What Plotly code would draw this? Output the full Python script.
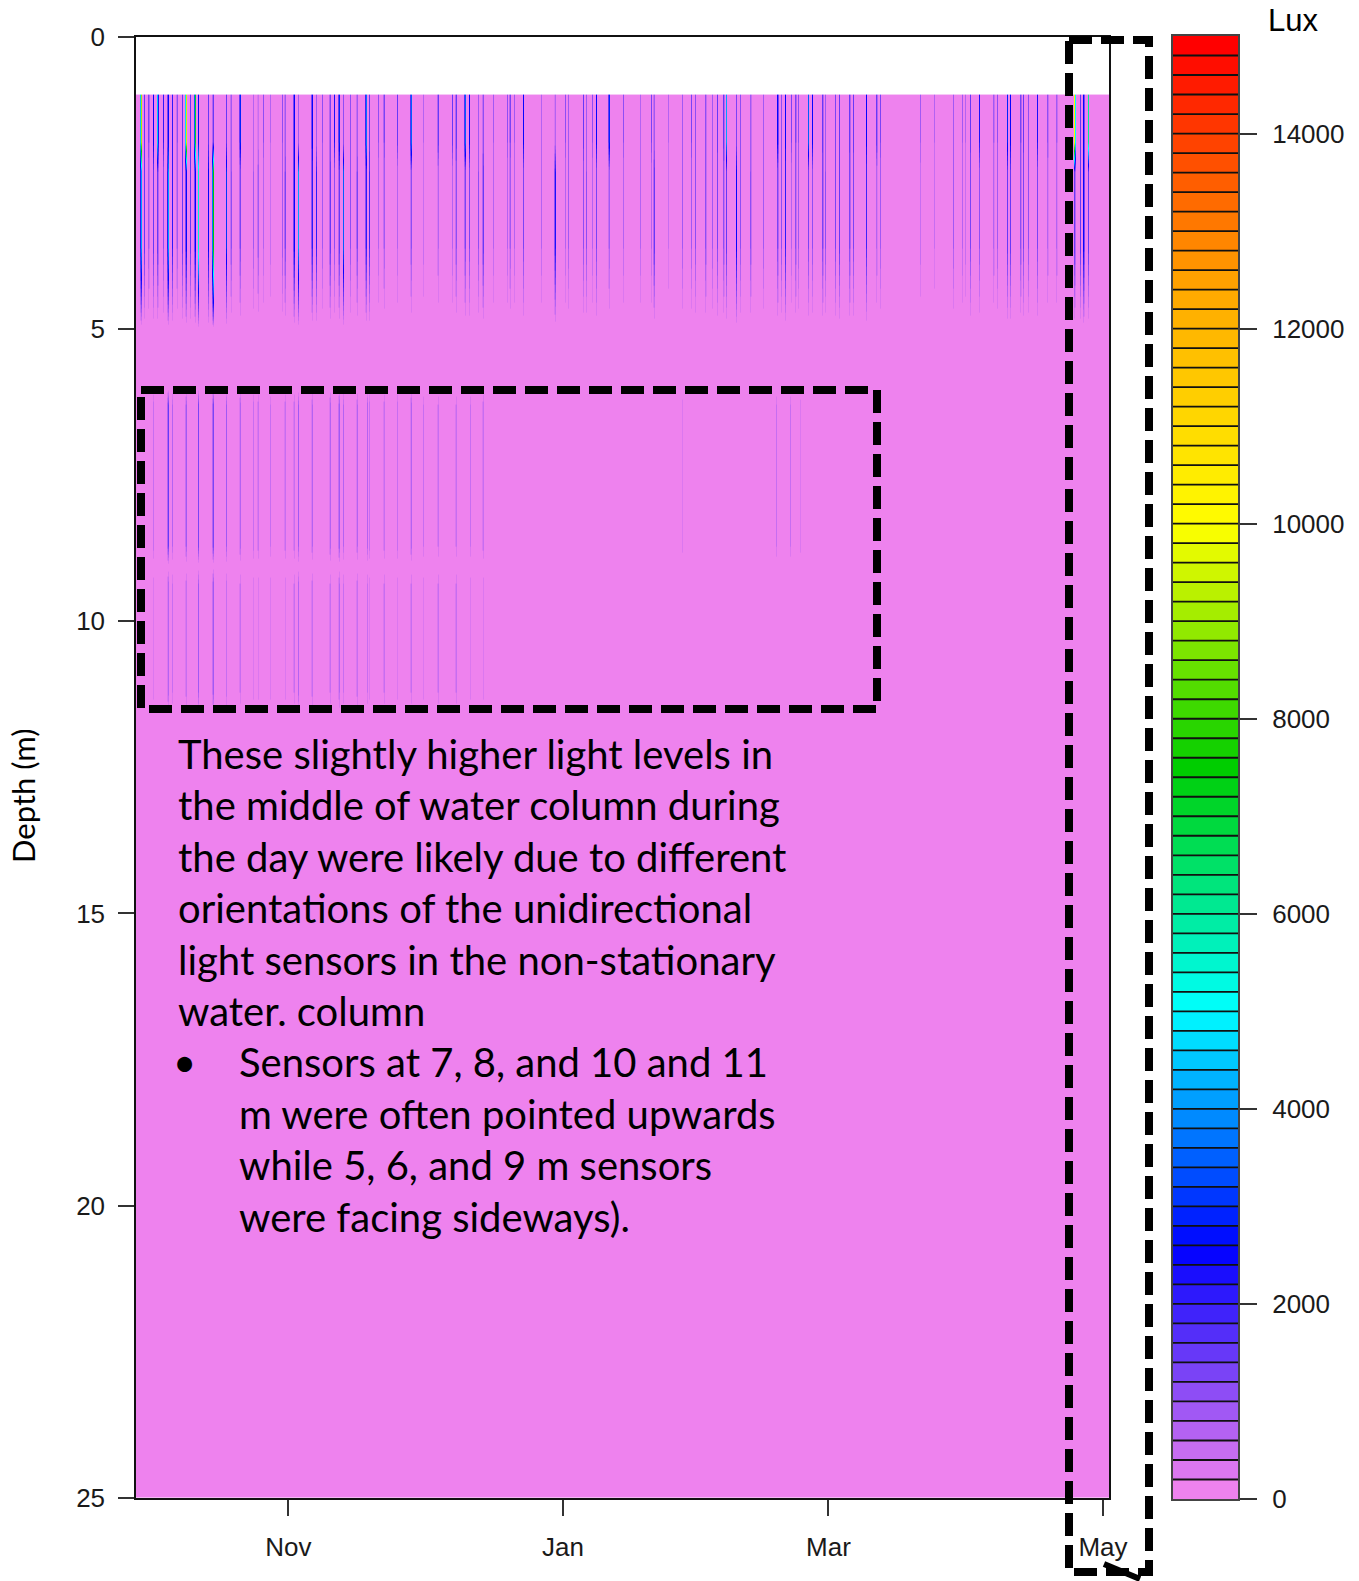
import numpy as np
import pandas as pd
import plotly.graph_objects as go

# ------------------------------------------------------------------ data
series_start = pd.Timestamp("2018-09-28 03:50")
series_end = pd.Timestamp("2019-05-02 08:00")

# daytime light peaks near the surface: day offset from series_start, lux at ~1 m and ~3 m
streak_day = [0.9, 1.8, 2.7, 3.8, 4.7, 6.0, 6.9, 8.0, 9.1, 10.2, 10.9, 12.0, 13.1, 13.8, 16.0, 17.1,
              20.0, 20.9, 22.9, 26.0, 26.9, 28.2, 29.8, 32.4, 33.1, 35.1, 36.0, 39.1, 40.0, 41.3,
              43.1, 44.0, 45.1, 46.0, 47.5, 49.1, 51.1, 51.8, 53.8, 54.9, 58.0, 61.1, 63.8, 67.1,
              70.2, 70.9, 73.1, 74.0, 76.0, 77.1, 79.3, 82.4, 83.1, 84.0, 86.0, 90.0, 93.1, 95.3,
              96.0, 99.3, 100.0, 101.3, 102.2, 105.1, 108.2, 112.0, 114.4, 115.1, 118.2, 121.3,
              123.3, 124.2, 126.4, 128.0, 129.1, 130.4, 131.1, 133.3, 134.2, 136.4, 139.3, 142.4,
              143.3, 144.2, 145.5, 146.4, 147.1, 149.3, 150.2, 152.4, 153.1, 155.3, 156.2, 158.4,
              159.3, 162.2, 164.6, 165.3, 174.2, 177.3, 181.5, 183.5, 184.2, 185.3, 187.3, 190.4,
              191.3, 193.5, 194.2, 196.4, 197.1, 198.2, 200.2, 202.6, 204.6, 208.6, 209.7, 210.4,
              211.5]
lux_1m = [9000, 1500, 1200, 2500, 4500, 2000, 2500, 2000, 1000, 1500, 9500, 1500, 7000, 2500, 1500, 1500,
          1500, 800, 2800, 600, 500, 1000, 600, 1000, 800, 2500, 800, 2500, 800, 1000,
          1200, 2200, 2800, 1000, 1000, 800, 3800, 1500, 1000, 1200, 1500, 3500, 600, 1500,
          1500, 1500, 3500, 2500, 800, 1000, 800, 1000, 1200, 800, 2500, 600, 600, 1000,
          800, 1500, 800, 1000, 2500, 2800, 1000, 600, 1200, 800, 600, 800,
          1200, 1000, 1000, 800, 1500, 1500, 4000, 1200, 1000, 800, 800, 2500,
          1000, 2500, 1200, 1200, 1000, 3500, 2500, 1500, 800, 1200, 1500, 1500,
          1500, 2500, 1500, 1200, 800, 600, 800, 800, 600, 1500, 2200, 800,
          1000, 2800, 2500, 1200, 1500, 1000, 2200, 1000, 800, 10000, 1500, 2500,
          6000]
lux_3m = [4000, 1500, 800, 1500, 1500, 1000, 4000, 2000, 800, 1500, 2500, 1500, 2500, 5500, 2500, 7500,
          3000, 1000, 1200, 800, 900, 600, 500, 900, 1200, 2500, 4000, 2000, 2000, 800,
          1500, 1000, 1500, 3500, 1000, 1200, 2000, 1800, 600, 800, 600, 1000, 500, 600,
          600, 1000, 1200, 1200, 1000, 1500, 600, 600, 800, 600, 1200, 600, 2200, 600,
          800, 1000, 1000, 600, 1200, 800, 600, 600, 600, 1500, 400, 800,
          800, 1000, 1000, 800, 1200, 1000, 1500, 2500, 1000, 1000, 800, 1200,
          1000, 2000, 600, 1000, 800, 1200, 1000, 1200, 1000, 1200, 1500, 1200,
          1200, 1800, 600, 800, 500, 400, 800, 600, 500, 1200, 1000, 600,
          800, 1500, 1500, 1000, 1200, 1000, 1200, 600, 600, 1500, 1500, 2500,
          1500]

# weaker daytime peaks in the middle of the water column (7-8 m and 10-11 m sensors)
deep_day = [3.8, 6.9, 8.0, 10.9, 13.8, 16.9, 20.0, 22.9, 26.0, 26.9, 29.8, 32.9, 34.9, 36.0, 39.1,
            43.1, 45.1, 46.0, 49.1, 51.3, 51.8, 54.9, 58.0, 61.1, 63.8, 67.1, 70.9, 74.2, 77.1,
            121.3, 142.2, 145.3, 147.5]
lux_7m = [500, 1400, 600, 800, 1300, 1300, 800, 700, 500, 500, 400, 500, 500, 800, 600,
          700, 900, 600, 600, 700, 500, 500, 500, 700, 400, 400, 400, 400, 500,
          300, 400, 400, 300]
lux_10m = [300, 700, 400, 500, 800, 900, 500, 400, 300, 300, 300, 300, 400, 700, 500,
           400, 600, 400, 500, 400, 300, 400, 300, 400, 300, 400, 400, 300, 300,
           0, 0, 0, 0]

# depth rows of the gridded field and which sensor group feeds each row
depth_rows = [1.0, 1.02, 1.8, 2.3, 3.6, 5.0, 6.0, 6.3, 8.7, 9.05, 9.35, 11.2, 11.6, 24.98, 25.0]
row_source = ["1m", "1m", "1m", "3m", "3m", None, None, "7m", "7m", None, "10m", "10m", None, None, None]

lux_levels = list(range(0, 15001, 200))
depth_ticks = [0, 5, 10, 15, 20, 25]
lux_ticks = [0, 2000, 4000, 6000, 8000, 10000, 12000, 14000]
month_ticks = ["2018-11-01", "2019-01-01", "2019-03-01", "2019-05-01"]
month_labels = ["Nov", "Jan", "Mar", "May"]

note_lines = ["These slightly higher light levels in",
              "the middle of water column during",
              "the day were likely due to different",
              "orientations of the unidirectional",
              "light sensors in the non-stationary",
              "water. column"]
bullet_lines = ["Sensors at 7, 8, and 10 and 11",
                "m were often pointed upwards",
                "while 5, 6, and 9 m sensors",
                "were facing sideways)."]

# ------------------------------------------------------------------ build grid
steps_per_day = 4
total_days = (series_end - series_start) / pd.Timedelta(days=1)
n_cols = int(np.floor(total_days * steps_per_day)) + 1
times = series_start + pd.to_timedelta(np.arange(n_cols) / steps_per_day, unit="D")

z = np.zeros((len(depth_rows), n_cols))
groups = {
    "1m": (streak_day, lux_1m),
    "3m": (streak_day, lux_3m),
    "7m": (deep_day, lux_7m),
    "10m": (deep_day, lux_10m),
}
for r, src in enumerate(row_source):
    if src is None:
        continue
    days, vals = groups[src]
    for d, v in zip(days, vals):
        c = int(round(d * steps_per_day))
        if 0 <= c < n_cols:
            z[r, c] = max(z[r, c], v)

# ------------------------------------------------------------------ palette (violet -> red ramp, 75 levels)
anchors = [(238, 130, 238), (0, 0, 255), (0, 255, 255), (0, 205, 0),
           (255, 255, 0), (255, 165, 0), (255, 0, 0)]
n_bands = len(lux_levels) - 1
band_colors = []
for i in range(n_bands):
    t = i / (n_bands - 1) * (len(anchors) - 1)
    k = min(int(np.floor(t)), len(anchors) - 2)
    f = t - k
    a, b = anchors[k], anchors[k + 1]
    rgb = [round(a[j] + (b[j] - a[j]) * f) for j in range(3)]
    band_colors.append("rgb(%d,%d,%d)" % tuple(rgb))
colorscale = []
for i, c in enumerate(band_colors):
    colorscale.append([i / n_bands, c])
    colorscale.append([(i + 1) / n_bands, c])

# ------------------------------------------------------------------ figure
W, H = 1359, 1581


def px(x):
    return x / W


def py(y):
    return 1 - y / H


fig = go.Figure()
fig.add_trace(go.Heatmap(
    x=times, y=depth_rows, z=z, zmin=0, zmax=lux_levels[-1],
    colorscale=colorscale, zsmooth="best", showscale=False,
    hoverinfo="skip", xaxis="x", yaxis="y"))

# key: bands + separators
band_mid = [[(lux_levels[i] + lux_levels[i + 1]) / 2] for i in range(n_bands)]
fig.add_trace(go.Heatmap(
    x=[0, 1], y=lux_levels, z=band_mid, zmin=0, zmax=lux_levels[-1],
    colorscale=colorscale, showscale=False, hoverinfo="skip",
    xaxis="x2", yaxis="y2"))
sep_x, sep_y = [], []
for lv in lux_levels[1:-1]:
    sep_x += [0, 1, None]
    sep_y += [lv, lv, None]
fig.add_trace(go.Scatter(x=sep_x, y=sep_y, mode="lines",
                         line=dict(color="#111111", width=1.8),
                         hoverinfo="skip", showlegend=False,
                         xaxis="x2", yaxis="y2"))

tick_font = dict(family="Liberation Sans, Arial, sans-serif", size=26, color="#1a1a1a")

fig.update_layout(
    width=W, height=H, autosize=False,
    margin=dict(l=0, r=0, t=0, b=0, pad=0),
    paper_bgcolor="white", plot_bgcolor="white",
    showlegend=False,
    xaxis=dict(domain=[px(136), px(1109)], range=[series_start, series_end],
               type="date", tickvals=pd.to_datetime(month_ticks), ticktext=month_labels,
               ticks="outside", ticklen=16, tickwidth=1.5, tickcolor="#333",
               showline=True, mirror=True, linecolor="#111", linewidth=1.5,
               showgrid=False, zeroline=False, tickfont=tick_font,
               ticklabelstandoff=9, anchor="y", automargin=False),
    yaxis=dict(domain=[py(1498), py(36.7)], range=[25, 0],
               tickvals=depth_ticks, ticks="outside", ticklen=16, tickwidth=1.5,
               tickcolor="#333", showline=True, mirror=True, linecolor="#111",
               linewidth=1.5, showgrid=False, zeroline=False, tickfont=tick_font,
               ticklabelstandoff=8, anchor="x", automargin=False),
    xaxis2=dict(domain=[px(1173), px(1238)], range=[0, 1], showticklabels=False,
                ticks="", showline=True, mirror=True, linecolor="#444", linewidth=2,
                showgrid=False, zeroline=False, anchor="y2", automargin=False),
    yaxis2=dict(domain=[py(1499), py(36)], range=[0, lux_levels[-1]], side="right",
                tickvals=lux_ticks, ticktext=[str(v) for v in lux_ticks],
                ticks="outside", ticklen=17, tickwidth=1.5,
                tickcolor="#333", showline=True, mirror=True, linecolor="#444",
                linewidth=2, showgrid=False, zeroline=False, tickfont=tick_font,
                ticklabelstandoff=10, anchor="x2", automargin=False),
)

annotations = []
annotations.append(dict(text="Depth (m)", x=px(23), y=py(796), xref="paper", yref="paper",
                        xanchor="center", yanchor="middle",
                        showarrow=False, textangle=-90,
                        font=dict(family="Lato, sans-serif", size=31, color="black")))
annotations.append(dict(text="Lux", x=px(1293), y=py(20), xref="paper", yref="paper",
                        xanchor="center", yanchor="middle", showarrow=False,
                        font=dict(family="Liberation Sans, Arial, sans-serif", size=31,
                                  color="black")))
note_font = dict(family="Lato, sans-serif", size=40, color="black")
line_h = 51.4
for i, t in enumerate(note_lines):
    annotations.append(dict(text=t, x=px(176), y=py(754 + i * line_h), xref="paper",
                            yref="paper", xanchor="left", yanchor="middle",
                            showarrow=False, font=note_font))
for j, t in enumerate(bullet_lines):
    yy = 754 + (len(note_lines) + j) * line_h
    annotations.append(dict(text=t, x=px(237), y=py(yy), xref="paper", yref="paper",
                            xanchor="left", yanchor="middle", showarrow=False,
                            font=note_font))
annotations.append(dict(text="•", x=px(184), y=py(754 + len(note_lines) * line_h),
                        xref="paper", yref="paper", xanchor="center", yanchor="middle",
                        showarrow=False, font=note_font))
fig.update_layout(annotations=annotations)

dash_line = dict(color="black", width=8, dash="23px,9px")
fig.update_layout(shapes=[
    dict(type="rect", xref="paper", yref="paper", x0=px(141), x1=px(877),
         y0=py(390), y1=py(709), line=dash_line, layer="above"),
    dict(type="rect", xref="paper", yref="paper", x0=px(1069), x1=px(1149),
         y0=py(40), y1=py(1572), line=dash_line, layer="above"),
    dict(type="line", xref="paper", yref="paper", x0=px(1104), x1=px(1140),
         y0=py(1564), y1=py(1579), line=dict(color="black", width=6), layer="above"),
])

fig.write_html("out.html", config={"responsive": False, "displayModeBar": False},
               post_script="document.body.style.margin='0px';")
